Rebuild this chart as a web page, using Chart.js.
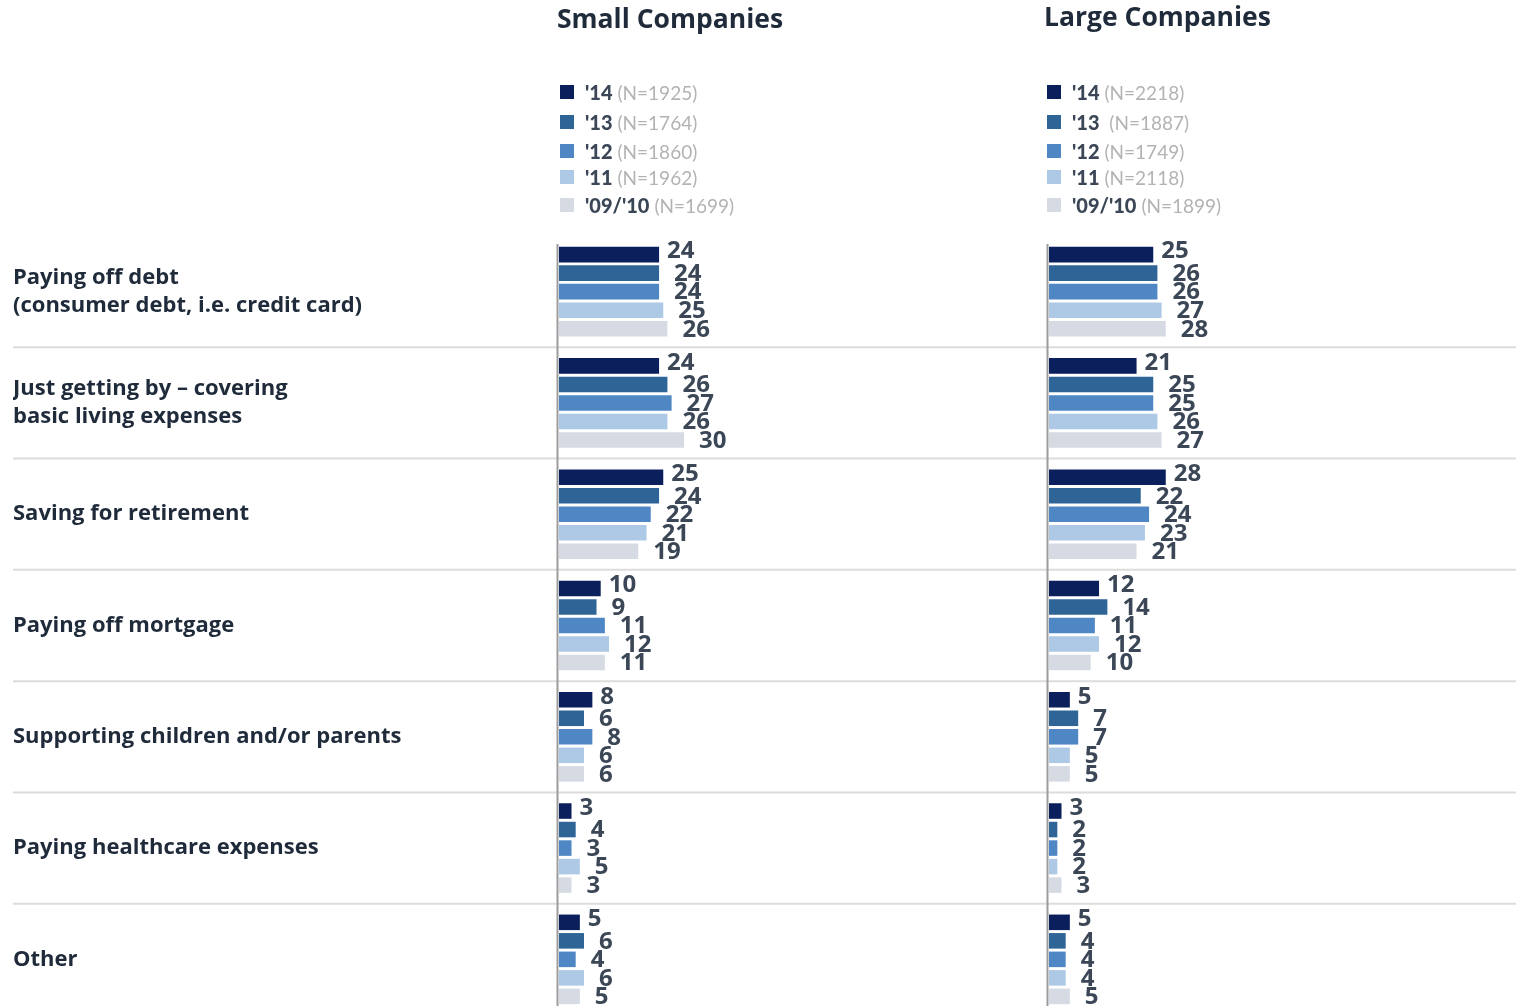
<!DOCTYPE html>
<html>
<head>
<meta charset="utf-8">
<script src="https://cdn.jsdelivr.net/npm/chart.js@4"></script>
<style>
  body { margin: 0; width: 1516px; height: 1006px; overflow: hidden; background: #fff; position: relative; font-family: Lato, "Open Sans", sans-serif; }
  .panel { position: absolute; top: 0; }
  .title { position: absolute; font-family: "Open Sans", sans-serif; font-weight: bold; font-size: 26.5px; color: #1f2b3a; white-space: nowrap; }
  .legendRow { position: absolute; white-space: nowrap; display: flex; align-items: center; height: 24px; }
  .legendRow .box { width: 14px; height: 14px; margin-right: 11px; }
  .legendRow .yr { font-weight: 900; font-size: 20px; color: #3b4756; margin-right: 5px; }
  .legendRow .n { font-size: 19px; color: #b3b3b3; white-space: pre; }
</style>
</head>
<body>
<div class="panel" style="left:0;width:1040px;height:1020px"><canvas id="chartSmall" width="1040" height="1020"></canvas></div>
<div class="panel" style="left:1040px;width:476px;height:1020px"><canvas id="chartLarge" width="476" height="1020"></canvas></div>
<div class="title" style="left:557px;top:0px">Small Companies</div>
<div class="title" style="left:1044px;top:-2px">Large Companies</div>
<div id="legendSmall"></div>
<div id="legendLarge"></div>
<script>
// Categories (rows), as shown on the left
const categories = [
  ['Paying off debt', '(consumer debt, i.e. credit card)'],
  ['Just getting by \u2013 covering', 'basic living expenses'],
  'Saving for retirement',
  'Paying off mortgage',
  'Supporting children and/or parents',
  'Paying healthcare expenses',
  'Other'
];

// Survey years
const years = ["'14", "'13", "'12", "'11", "'09/'10"];
const nSmall = ['(N=1925)', '(N=1764)', '(N=1860)', '(N=1962)', '(N=1699)'];
const nLarge = ['(N=2218)', ' (N=1887)', '(N=1749)', '(N=2118)', '(N=1899)'];

// Small companies, one array per year
const small14 = [24, 24, 25, 10, 8, 3, 5];
const small13 = [24, 26, 24, 9, 6, 4, 6];
const small12 = [24, 27, 22, 11, 8, 3, 4];
const small11 = [25, 26, 21, 12, 6, 5, 6];
const small0910 = [26, 30, 19, 11, 6, 3, 5];

// Large companies, one array per year
const large14 = [25, 21, 28, 12, 5, 3, 5];
const large13 = [26, 25, 22, 14, 7, 2, 4];
const large12 = [26, 25, 24, 11, 7, 2, 4];
const large11 = [27, 26, 23, 12, 5, 2, 4];
const large0910 = [28, 27, 21, 10, 5, 3, 5];

const colors = ['#0a1f5c', '#2f6497', '#4f87c5', '#adc9e5', '#d6dbe3'];

// Legend rows positions
const legendTop = [80, 110, 139, 165, 193];

function buildLegend(id, left, nList) {
  const holder = document.getElementById(id);
  years.forEach((yr, i) => {
    const row = document.createElement('div');
    row.className = 'legendRow';
    row.style.left = left + 'px';
    row.style.top = legendTop[i] + 'px';
    row.innerHTML = '<span class="box" style="background:' + colors[i] + '"></span>' +
      '<span class="yr">' + yr + '</span><span class="n">' + nList[i] + '</span>';
    holder.appendChild(row);
  });
}
buildLegend('legendSmall', 560, nSmall);
buildLegend('legendLarge', 1047, nLarge);

// Separators, axis line and value labels
const decorPlugin = {
  id: 'decor',
  beforeDatasetsDraw(chart, args, opts) {
    const ctx = chart.ctx;
    const y = chart.scales.y;
    const a = chart.chartArea;
    ctx.save();
    ctx.strokeStyle = '#dcdcdc';
    ctx.lineWidth = 2;
    for (let i = 0; i < categories.length - 1; i++) {
      const yy = (y.getPixelForValue(i) + y.getPixelForValue(i + 1)) / 2;
      ctx.beginPath();
      ctx.moveTo(opts.sepFrom, yy);
      ctx.lineTo(chart.width, yy);
      ctx.stroke();
    }
    ctx.strokeStyle = '#9c9c9c';
    ctx.beginPath();
    ctx.moveTo(a.left - 1.5, a.top + 8);
    ctx.lineTo(a.left - 1.5, chart.height);
    ctx.stroke();
    ctx.restore();
  },
  afterDatasetsDraw(chart) {
    const ctx = chart.ctx;
    ctx.save();
    ctx.font = 'bold 24px "Open Sans", sans-serif';
    ctx.fillStyle = '#3b4756';
    ctx.textBaseline = 'middle';
    ctx.textAlign = 'left';
    chart.data.datasets.forEach((ds, di) => {
      chart.getDatasetMeta(di).data.forEach((bar, i) => {
        const dx = di === 0 ? 8 : 15;
        const dy = di === 0 ? -3 : 1;
        ctx.fillText(ds.data[i], bar.x + dx, bar.y + dy);
      });
    });
    ctx.restore();
  }
};

function makeChart(canvasId, series, showLabels, padding) {
  return new Chart(document.getElementById(canvasId), {
    type: 'bar',
    data: {
      labels: categories,
      datasets: series.map((s, i) => ({
        label: years[i],
        data: s,
        backgroundColor: colors[i],
        barPercentage: 0.84,
        categoryPercentage: 0.832
      }))
    },
    options: {
      indexAxis: 'y',
      responsive: false,
      animation: false,
      layout: { padding: padding },
      plugins: {
        legend: { display: false },
        tooltip: { enabled: false },
        decor: { sepFrom: showLabels ? 13 : 0 }
      },
      scales: {
        x: { display: false, min: 0, max: 100 },
        y: {
          display: showLabels,
          grid: { display: false, drawTicks: false },
          border: { display: false },
          ticks: {
            crossAlign: 'far',
            color: '#1f2b3a',
            font: { family: '"Open Sans", sans-serif', size: 22, weight: 'bold', lineHeight: 1.25 }
          },
          afterFit(scale) {
            if (showLabels) scale.width = 546;
            scale.paddingTop = 0;
            scale.paddingBottom = 0;
          }
        }
      }
    },
    plugins: [decorPlugin]
  });
}

makeChart('chartSmall', [small14, small13, small12, small11, small0910], true,
  { left: 13, right: 64, top: 236, bottom: 5 });
makeChart('chartLarge', [large14, large13, large12, large11, large0910], false,
  { left: 9, right: 50, top: 236, bottom: 5 });
</script>
</body>
</html>
